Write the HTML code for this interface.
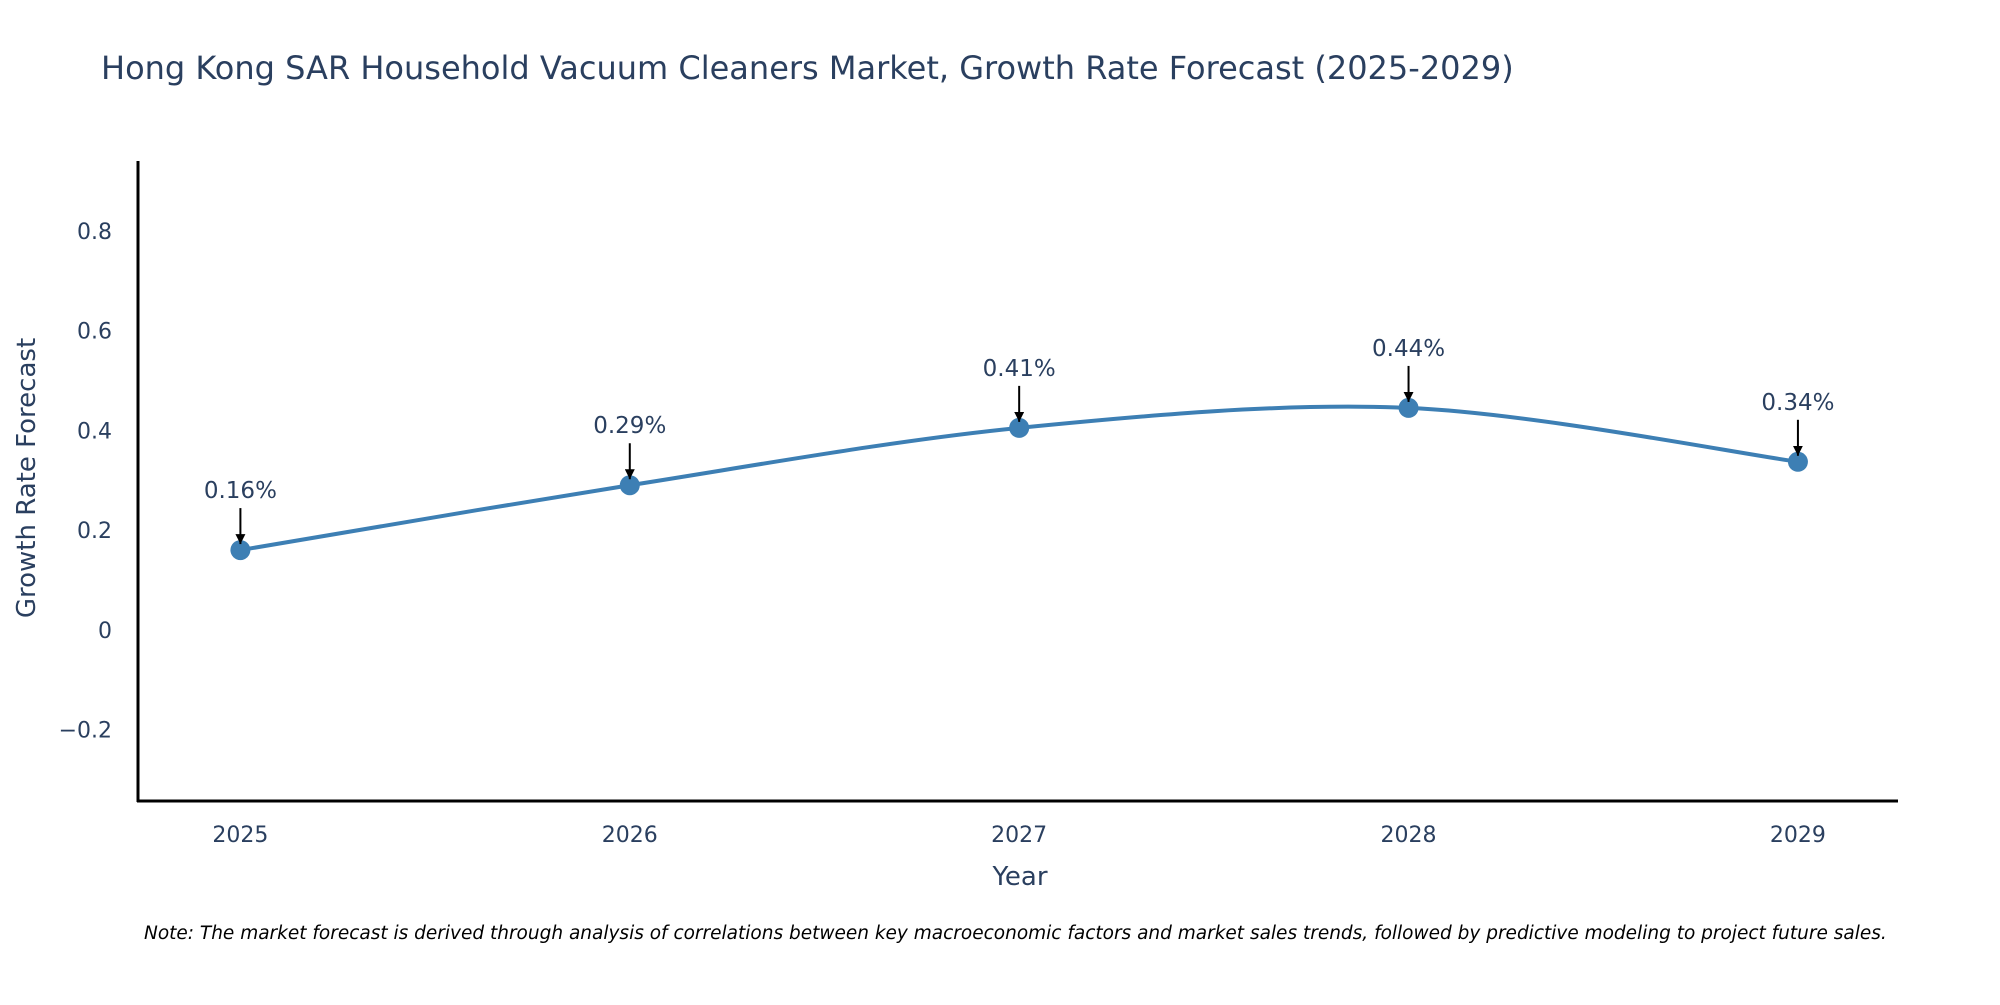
<!DOCTYPE html>
<html><head><meta charset="utf-8"><style>
body{margin:0;background:#fff}
svg text{font-family:"DejaVu Sans","Liberation Sans",sans-serif}
</style></head><body>
<svg id="chart" width="2000" height="1000" xmlns="http://www.w3.org/2000/svg">
<defs><marker id="ah" viewBox="0 0 10 10" refX="10" refY="5" markerWidth="5" markerHeight="5" orient="auto"><path d="M0,0 L10,5 L0,10 z" fill="#000"/></marker></defs>
<text x="101" y="79" font-size="32" fill="#2a3f5f">Hong Kong SAR Household Vacuum Cleaners Market, Growth Rate Forecast (2025-2029)</text>
<g id="axes"></g>
<g id="series"></g>
<text x="1020" y="885" font-size="26" fill="#2a3f5f" text-anchor="middle">Year</text>
<text transform="translate(35,478) rotate(-90)" font-size="26" fill="#2a3f5f" text-anchor="middle">Growth Rate Forecast</text>
<text x="144" y="939" font-size="18.5" font-style="italic" fill="#000">Note: The market forecast is derived through analysis of correlations between key macroeconomic factors and market sales trends, followed by predictive modeling to project future sales.</text>
</svg>
<script>
const years=[2025,2026,2027,2028,2029];
const values=[0.16,0.29,0.405,0.445,0.337];
const labels=["0.16%","0.29%","0.41%","0.44%","0.34%"];
const yTicks=[-0.2,0,0.2,0.4,0.6,0.8];
const NS="http://www.w3.org/2000/svg";
const X0=138,X1=1898,Y0=161,Y1=801;
const xMin=2024.737,xMax=2029.257,yMin=-0.343,yMax=0.94;
function xs(v){return X0+(v-xMin)/(xMax-xMin)*(X1-X0);}
function ys(v){return Y1-(v-yMin)/(yMax-yMin)*(Y1-Y0);}
function mk(tag,attrs,parent){const e=document.createElementNS(NS,tag);for(const k in attrs)e.setAttribute(k,attrs[k]);parent.appendChild(e);return e;}
const axes=document.getElementById('axes'),ser=document.getElementById('series');
let e=mk('line',{x1:X0,y1:Y0,x2:X0,y2:Y1+1,stroke:'#000','stroke-width':3},axes);


e=mk('line',{x1:X0-1,y1:Y1,x2:X1,y2:Y1,stroke:'#000','stroke-width':3},axes);


yTicks.forEach(t=>{const el=mk('text',{x:X0-26,y:ys(t)+8,'font-size':22,fill:'#2a3f5f','text-anchor':'end'},axes);el.textContent=t===0?'0':(t<0?'\u2212'+Math.abs(t):String(t));

});
years.forEach(y=>{const el=mk('text',{x:xs(y),y:Y1+41,'font-size':22,fill:'#2a3f5f','text-anchor':'middle'},axes);el.textContent=String(y);

});
const pts=years.map((y,i)=>[xs(y),ys(values[i])]);
let d='M'+pts[0][0]+','+pts[0][1];
const s=0.16;
for(let i=0;i<pts.length-1;i++){const p0=pts[Math.max(0,i-1)],p1=pts[i],p2=pts[i+1],p3=pts[Math.min(pts.length-1,i+2)];
const c1=[p1[0]+(p2[0]-p0[0])*s,p1[1]+(p2[1]-p0[1])*s],c2=[p2[0]-(p3[0]-p1[0])*s,p2[1]-(p3[1]-p1[1])*s];
d+=' C'+c1[0]+','+c1[1]+' '+c2[0]+','+c2[1]+' '+p2[0]+','+p2[1];}
e=mk('path',{d:d,fill:'none',stroke:'#3d7fb4','stroke-width':4},ser);


pts.forEach((p,i)=>{const c=mk('circle',{cx:p[0],cy:p[1],r:10,fill:'#3d7fb4'},ser);


const a=mk('line',{x1:p[0],y1:p[1]-42,x2:p[0],y2:p[1]-6,stroke:'#000','stroke-width':2,'marker-end':'url(#ah)'},ser);


const t=mk('text',{x:p[0],y:p[1]-52,'font-size':23,fill:'#2a3f5f','text-anchor':'middle'},ser);t.textContent=labels[i];

});
</script>
</body></html>
